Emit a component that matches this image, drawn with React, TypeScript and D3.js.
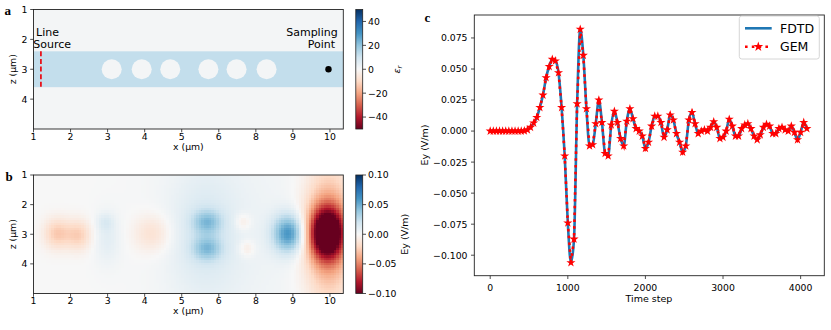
import React, { useEffect, useRef } from 'react';
import * as d3 from 'd3';

// ---- panel a : permittivity map ----
const xTickValues = [1, 2, 3, 4, 5, 6, 7, 8, 9];
const xTickLabels = ['1', '2', '3', '4', '5', '6', '8', '9', '10'];
const zTickValues = [1, 2, 3, 4];
const holeCentersX = [3.11, 3.92, 4.69, 5.72, 6.48, 7.29];
const holeCenterZ = 3;
const holeRadius = 0.27;
const epsBackground = 1;
const epsWaveguide = 12.25;
const waveguideZ = [2.4, 3.6];
const sourceX = 1.2;
const probeX = 8.96;
const probeZ = 3;
const epsTicks = [-40, -20, 0, 20, 40];

// ---- panel b : Ey snapshot, described as lobes ----
const lobeX = [1.63, 2.21, 2.93, 2.98, 4.2, 5.68, 5.68, 5.6, 6.65, 6.75, 7.88, 8.92, 8.95, 6.5];
const lobeZ = [2.97, 3.02, 2.58, 3.15, 2.97, 2.58, 3.47, 3.0, 2.58, 3.47, 2.97, 2.95, 3.0, 3.0];
const lobeAmp = [-0.026, -0.024, 0.01, 0.01, -0.017, 0.03, 0.03, 0.013, -0.013, -0.013, 0.058, -0.11, -0.05, 0.005];
const lobeSx = [0.25, 0.24, 0.16, 0.25, 0.36, 0.27, 0.27, 0.65, 0.15, 0.15, 0.3, 0.32, 0.45, 1.6];
const lobeSz = [0.36, 0.36, 0.2, 0.6, 0.45, 0.28, 0.28, 1.5, 0.2, 0.2, 0.45, 0.58, 1.5, 3.0];
const eyTicks = [-0.1, -0.05, 0, 0.05, 0.1];

// ---- panel c : Ey at the sampling point ----
const sampleStep = 40;
const gemEy = [
  0, 0, 0, 0, 0, 0, 0, 0, 0, 0,
  0, 0.0002, 0.001, 0.003, 0.0065, 0.011, 0.019, 0.029, 0.043, 0.052,
  0.0578, 0.0565, 0.047, 0.019, -0.02, -0.074, -0.106, -0.087, 0.022, 0.082,
  0.061, 0.018, -0.012, -0.011, 0.006, 0.025, 0.007, -0.018, -0.02, 0.005,
  0.016, 0.007, -0.006, -0.012, 0.008, 0.018, 0.01, 0.002, 0, -0.004,
  -0.014, -0.009, 0.004, 0.012, 0.012, 0.007, -0.005, 0.001, 0.013, 0.009,
  -0.002, -0.009, -0.017, -0.012, 0.009, 0.015, 0.006, -0.002, 0, 0.001,
  0, 0.003, 0.0075, 0.003, -0.006, -0.005, 0, 0.0095, 0.004, -0.004,
  -0.004, 0.002, 0.005, 0.006, 0.002, -0.004, -0.007, -0.003, 0.003, 0.0055,
  0.004, -0.002, -0.002, 0.002, 0.003, 0.001, 0, 0.004, -0.001, -0.007,
  -0.001, 0.007, 0.002
];
const timeTicks = [0, 1000, 2000, 3000, 4000];
const eyAxisTicks = [-0.1, -0.075, -0.05, -0.025, 0, 0.025, 0.05, 0.075];
const seriesNames = ['FDTD', 'GEM'];

const FONT = 'DejaVu Sans, sans-serif';
const minus = (s: string) => s.replace('-', '\u2212');
// matplotlib's RdBu is a straight (linear) blend of the ColorBrewer stops
const rdbu = d3.piecewise(d3.interpolateRgb, d3.schemeRdBu[11] as string[]);

function App() {
  const svgRef = useRef<SVGSVGElement>(null);

  useEffect(() => {
    const svg = d3.select(svgRef.current);
    svg.selectAll('*').remove();

    const xMap = d3.scaleLinear().domain([1, 9.36]).range([33.5, 343.3]);
    const zA = d3.scaleLinear().domain([1, 5]).range([9.5, 129]);
    const zB = d3.scaleLinear().domain([1, 5]).range([175, 293.5]);
    const epsColor = d3.scaleSequential(rdbu).domain([-50, 50]).clamp(true);
    const eyColor = d3.scaleSequential(rdbu).domain([-0.1, 0.1]).clamp(true);

    const defs = svg.append('defs');
    const g0 = defs.append('linearGradient').attr('id', 'rdbu')
      .attr('x1', 0).attr('y1', 1).attr('x2', 0).attr('y2', 0);
    d3.range(0, 1.0001, 0.05).forEach(t => {
      g0.append('stop').attr('offset', t).attr('stop-color', rdbu(t));
    });

    const tickText = (g: any, x: number, y: number, txt: string, anchor: string, size = 9.3) =>
      g.append('text').attr('x', x).attr('y', y).attr('text-anchor', anchor)
        .attr('font-family', FONT).attr('font-size', size).attr('fill', '#000').text(txt);

    // map panel axes (a and b share the x layout)
    const mapAxes = (zs: d3.ScaleLinear<number, number>) => {
      const g = svg.append('g');
      const [top, bottom] = zs.range();
      g.append('rect').attr('x', xMap(1)).attr('y', top)
        .attr('width', xMap(9.36) - xMap(1)).attr('height', bottom - top)
        .attr('fill', 'none').attr('stroke', '#222').attr('stroke-width', 0.9);
      xTickValues.forEach((v, i) => {
        g.append('line').attr('x1', xMap(v)).attr('x2', xMap(v))
          .attr('y1', bottom).attr('y2', bottom + 3.3).attr('stroke', '#222').attr('stroke-width', 0.8);
        tickText(g, xMap(v), bottom + 10.8, xTickLabels[i], 'middle');
      });
      zTickValues.forEach(v => {
        g.append('line').attr('x1', xMap(1) - 3.3).attr('x2', xMap(1))
          .attr('y1', zs(v)).attr('y2', zs(v)).attr('stroke', '#222').attr('stroke-width', 0.8);
        tickText(g, 27.5, zs(v) + 3.4, String(v), 'end');
      });
      tickText(g, (xMap(1) + xMap(9.36)) / 2, bottom + 20.5, 'x (\u03bcm)', 'middle');
      tickText(g, 0, 0, 'z (\u03bcm)', 'middle').attr('transform', `translate(15.5,${(top + bottom) / 2}) rotate(-90)`);
      return g;
    };

    const colorbar = (zs: d3.ScaleLinear<number, number>, scale: any, ticks: number[], fmt: (v: number) => string) => {
      const g = svg.append('g');
      const [top, bottom] = zs.range();
      const cb = d3.scaleLinear().domain(scale.domain()).range([bottom, top]);
      g.append('rect').attr('x', 355.8).attr('y', top).attr('width', 6.9).attr('height', bottom - top)
        .attr('fill', 'url(#rdbu)').attr('stroke', '#222').attr('stroke-width', 0.8);
      ticks.forEach(v => {
        g.append('line').attr('x1', 362.7).attr('x2', 366).attr('y1', cb(v)).attr('y2', cb(v))
          .attr('stroke', '#222').attr('stroke-width', 0.8);
        tickText(g, 368, cb(v) + 3.4, fmt(v), 'start');
      });
      return g;
    };

    // ---------- panel a ----------
    const gA = svg.append('g');
    const [aTop, aBot] = zA.range();
    gA.append('rect').attr('x', xMap(1)).attr('y', aTop).attr('width', xMap(9.36) - xMap(1))
      .attr('height', aBot - aTop).attr('fill', epsColor(epsBackground));
    gA.append('rect').attr('x', xMap(1)).attr('y', zA(waveguideZ[0])).attr('width', xMap(9.36) - xMap(1))
      .attr('height', zA(waveguideZ[1]) - zA(waveguideZ[0])).attr('fill', epsColor(epsWaveguide));
    gA.selectAll('circle.hole').data(holeCentersX).join('circle').attr('class', 'hole')
      .attr('cx', d => xMap(d)).attr('cy', zA(holeCenterZ))
      .attr('r', xMap(1 + holeRadius) - xMap(1)).attr('fill', epsColor(epsBackground));
    gA.append('line').attr('x1', xMap(sourceX)).attr('x2', xMap(sourceX))
      .attr('y1', zA(waveguideZ[0])).attr('y2', zA(waveguideZ[1]))
      .attr('stroke', '#e8141c').attr('stroke-width', 1.8).attr('stroke-dasharray', '5 2.6');
    gA.append('circle').attr('cx', xMap(probeX)).attr('cy', zA(probeZ)).attr('r', 3.2).attr('fill', '#000');
    tickText(gA, 36, 35.7, 'Line', 'start', 11);
    tickText(gA, 33.3, 48.3, 'Source', 'start', 11);
    tickText(gA, 337.7, 35.7, 'Sampling', 'end', 11);
    tickText(gA, 335, 48.3, 'Point', 'end', 11);
    mapAxes(zA);
    colorbar(zA, epsColor, epsTicks, v => minus(String(v)));
    const epsLab = svg.append('text').attr('transform', `translate(399.5,69.5) rotate(-90)`)
      .attr('text-anchor', 'middle').attr('font-family', FONT).attr('font-size', 9.5).attr('font-style', 'italic');
    epsLab.append('tspan').text('\u03b5');
    epsLab.append('tspan').attr('dy', 2).attr('font-size', 7).text('r');

    // ---------- panel b ----------
    const gB = svg.append('g');
    const cell = 2.5;
    const [bTop, bBot] = zB.range();
    const cells: { x: number; y: number; v: number }[] = [];
    for (let px = xMap(1); px < xMap(9.36) - 0.01; px += cell) {
      for (let py = bTop; py < bBot - 0.01; py += cell) {
        const u = xMap.invert(px + cell / 2);
        const z = zB.invert(py + cell / 2);
        let v = 0;
        for (let k = 0; k < lobeX.length; k++) {
          const dx = (u - lobeX[k]) / lobeSx[k];
          const dz = (z - lobeZ[k]) / lobeSz[k];
          v += lobeAmp[k] * Math.exp(-0.5 * (dx * dx + dz * dz));
        }
        cells.push({ x: px, y: py, v });
      }
    }
    gB.selectAll('rect.cell').data(cells).join('rect').attr('class', 'cell')
      .attr('x', d => d.x).attr('y', d => d.y)
      .attr('width', d => Math.min(cell + 0.4, xMap(9.36) - d.x))
      .attr('height', d => Math.min(cell + 0.4, bBot - d.y))
      .attr('fill', d => eyColor(d.v)).attr('shape-rendering', 'crispEdges');
    mapAxes(zB);
    colorbar(zB, eyColor, eyTicks, v => minus(v.toFixed(2)));
    tickText(svg, 0, 0, 'Ey (V/m)', 'middle', 9.5).attr('transform', `translate(407.5,234.2) rotate(-90)`);

    // panel letters
    const letter = (x: number, y: number, t: string) =>
      svg.append('text').attr('x', x).attr('y', y).attr('font-family', 'Liberation Serif, serif')
        .attr('font-weight', 'bold').attr('font-size', 13).text(t);
    letter(4.5, 15, 'a');
    letter(5.5, 180.7, 'b');
    letter(424.5, 21.7, 'c');

    // ---------- panel c ----------
    const tx = d3.scaleLinear().domain([-205, 4305]).range([474.3, 824.3]);
    const ty = d3.scaleLinear().domain([-0.1165, 0.0935]).range([275.7, 15]);
    const gC = svg.append('g');
    const pts = gemEy.map((v, i) => [i * sampleStep, v] as [number, number]);

    gC.append('path').attr('d', d3.line().x(d => tx(d[0])).y(d => ty(d[1])).curve(d3.curveMonotoneX)(pts))
      .attr('fill', 'none').attr('stroke', '#1f77b4').attr('stroke-width', 2.6);
    gC.append('path').attr('d', d3.line().x(d => tx(d[0])).y(d => ty(d[1]))(pts))
      .attr('fill', 'none').attr('stroke', '#ff0000').attr('stroke-width', 2.6).attr('stroke-dasharray', '2.6 4.2');
    const star = d3.symbol().type(d3.symbolStar).size(26);
    gC.selectAll('path.star').data(pts).join('path').attr('class', 'star')
      .attr('d', star).attr('transform', d => `translate(${tx(d[0])},${ty(d[1])})`).attr('fill', '#ff0000');

    gC.append('rect').attr('x', 474.3).attr('y', 15).attr('width', 350).attr('height', 260.7)
      .attr('fill', 'none').attr('stroke', '#222').attr('stroke-width', 0.9);
    timeTicks.forEach(v => {
      gC.append('line').attr('x1', tx(v)).attr('x2', tx(v)).attr('y1', 275.7).attr('y2', 279)
        .attr('stroke', '#222').attr('stroke-width', 0.8);
      tickText(gC, tx(v), 290.5, String(v), 'middle');
    });
    eyAxisTicks.forEach(v => {
      gC.append('line').attr('x1', 471).attr('x2', 474.3).attr('y1', ty(v)).attr('y2', ty(v))
        .attr('stroke', '#222').attr('stroke-width', 0.8);
      tickText(gC, 467.5, ty(v) + 3.4, minus(v.toFixed(3)), 'end');
    });
    tickText(gC, 649, 302, 'Time step', 'middle', 9.5);
    tickText(gC, 0, 0, 'Ey (V/m)', 'middle', 9.5).attr('transform', `translate(428,145) rotate(-90)`);

    // legend
    const lg = gC.append('g');
    lg.append('rect').attr('x', 739.3).attr('y', 16).attr('width', 80).attr('height', 43).attr('rx', 2.5)
      .attr('fill', '#fff').attr('fill-opacity', 0.8).attr('stroke', '#ccc').attr('stroke-width', 0.8);
    lg.append('line').attr('x1', 745).attr('x2', 771.7).attr('y1', 28.3).attr('y2', 28.3)
      .attr('stroke', '#1f77b4').attr('stroke-width', 2.6);
    lg.append('line').attr('x1', 745).attr('x2', 771.7).attr('y1', 46.7).attr('y2', 46.7)
      .attr('stroke', '#ff0000').attr('stroke-width', 2.6).attr('stroke-dasharray', '2.6 4.2');
    lg.append('path').attr('d', d3.symbol().type(d3.symbolStar).size(30)).attr('transform', 'translate(758.3,46.7)').attr('fill', '#ff0000');
    tickText(lg, 780, 32.9, seriesNames[0], 'start', 12.5);
    tickText(lg, 780, 51.3, seriesNames[1], 'start', 12.5);
  }, []);

  return (
    <svg ref={svgRef} width={831} height={330}
         style={{ position: 'absolute', left: 0, top: 0, background: '#fff' }} />
  );
}

export default App;
